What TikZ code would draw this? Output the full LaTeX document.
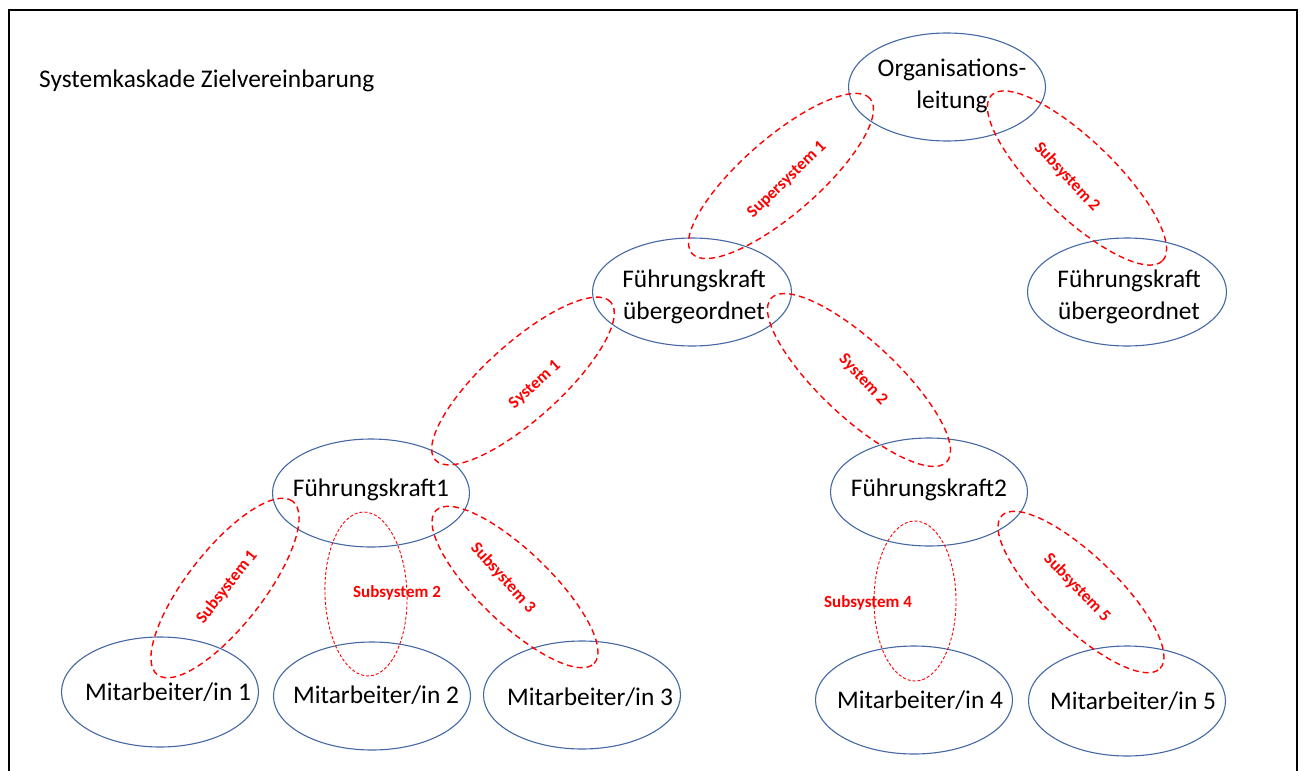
\documentclass[tikz,border=0pt]{standalone}
\usepackage{fontspec}
\setmainfont{Carlito}
\usetikzlibrary{shapes.geometric}
\definecolor{nodeblue}{RGB}{68,104,165}
\definecolor{sysred}{RGB}{255,0,0}
\begin{document}
\begin{tikzpicture}[x=1pt,y=-1pt,
  person/.style={draw=nodeblue, line width=1.1pt, ellipse, inner sep=0pt,
    minimum width=197pt, minimum height=108pt},
  persontext/.style={align=center, inner sep=0pt, font=\fontsize{25.4}{32}\selectfont},
  sysring/.style={draw=sysred, line width=1.4pt, dash pattern=on 6pt off 4pt,
    ellipse, inner sep=0pt},
  finering/.style={draw=sysred, line width=0.9pt, dash pattern=on 3pt off 2pt,
    ellipse, inner sep=0pt},
  syslabel/.style={text=sysred, font=\bfseries\fontsize{17}{19}\selectfont, inner sep=0pt},
  frameline/.style={draw=black, line width=2pt}]
\useasboundingbox (0,0) rectangle (1304,771);
% frame
\coordinate (fbl) at (9,775);
\coordinate (ftl) at (9,10);
\coordinate (ftr) at (1297,10);
\coordinate (fbr) at (1297,775);
\draw[frameline] (fbl) -- (ftl) -- (ftr) -- (fbr);
% title
\node[anchor=west, inner sep=0pt, font=\fontsize{25.4}{30}\selectfont] (title) at (39,81) {Systemkaskade Zielvereinbarung};
% person ellipses
\node[person] (org) at (947,87) {};
\node[person, minimum width=199pt] (fue) at (692,292) {};
\node[person, minimum width=199pt] (fuer) at (1127,292) {};
\node[person] (fk1) at (371,493) {};
\node[person] (fk2) at (929,492) {};
\node[person, minimum height=110pt] (ma1) at (160,692) {};
\node[person] (ma2) at (372,696) {};
\node[person] (ma3) at (582,695) {};
\node[person] (ma4) at (914,700) {};
\node[person, minimum height=110pt] (ma5) at (1127,701) {};
% person texts
\node[persontext] (orgt) at (952,86) {Organisations-\\leitung};
\node[persontext] (fuet) at (694,297) {Führungskraft\\übergeordnet};
\node[persontext] (fuert) at (1129,297) {Führungskraft\\übergeordnet};
\node[persontext] (fk1t) at (371,490) {Führungskraft1};
\node[persontext] (fk2t) at (929,490) {Führungskraft2};
\node[persontext] (ma1t) at (168,692) {Mitarbeiter/in 1};
\node[persontext] (ma2t) at (376,695) {Mitarbeiter/in 2};
\node[persontext] (ma3t) at (590,697) {Mitarbeiter/in 3};
\node[persontext] (ma4t) at (920,700) {Mitarbeiter/in 4};
\node[persontext] (ma5t) at (1133,701) {Mitarbeiter/in 5};
% system rings
\node[sysring, minimum width=236pt, minimum height=76pt, rotate=41] (super1) at (781,176) {};
\node[sysring, minimum width=238pt, minimum height=76pt, rotate=-44] (subtop2) at (1077,178) {};
\node[sysring, minimum width=236pt, minimum height=76pt, rotate=42] (sys1) at (523,381) {};
\node[sysring, minimum width=240pt, minimum height=76pt, rotate=-43] (sys2) at (859,380) {};
\node[sysring, minimum width=220pt, minimum height=76pt, rotate=52] (sub1) at (225,588) {};
\node[finering, minimum width=82pt, minimum height=164pt, rotate=2] (sub2) at (366,594) {};
\node[sysring, minimum width=220pt, minimum height=72pt, rotate=-44] (sub3) at (515,587) {};
\node[finering, minimum width=82pt, minimum height=160pt] (sub4) at (915,601) {};
\node[sysring, minimum width=220pt, minimum height=72pt, rotate=-44] (sub5) at (1081,592) {};
% labels
\node[syslabel, rotate=44] (lsuper1) at (787,180) {Supersystem 1};
\node[syslabel, rotate=-47] (lsubtop2) at (1067,177) {Subsystem 2};
\node[syslabel, rotate=42] (lsys1) at (535,385) {System 1};
\node[syslabel, rotate=-47] (lsys2) at (863,380) {System 2};
\node[syslabel, rotate=52] (lsub1) at (227,587) {Subsystem 1};
\node[syslabel] (lsub2) at (397,593) {Subsystem 2};
\node[syslabel, rotate=-48] (lsub3) at (503,578) {Subsystem 3};
\node[syslabel] (lsub4) at (868,603) {Subsystem 4};
\node[syslabel, rotate=-46] (lsub5) at (1077,588) {Subsystem 5};
\end{tikzpicture}
\end{document}
